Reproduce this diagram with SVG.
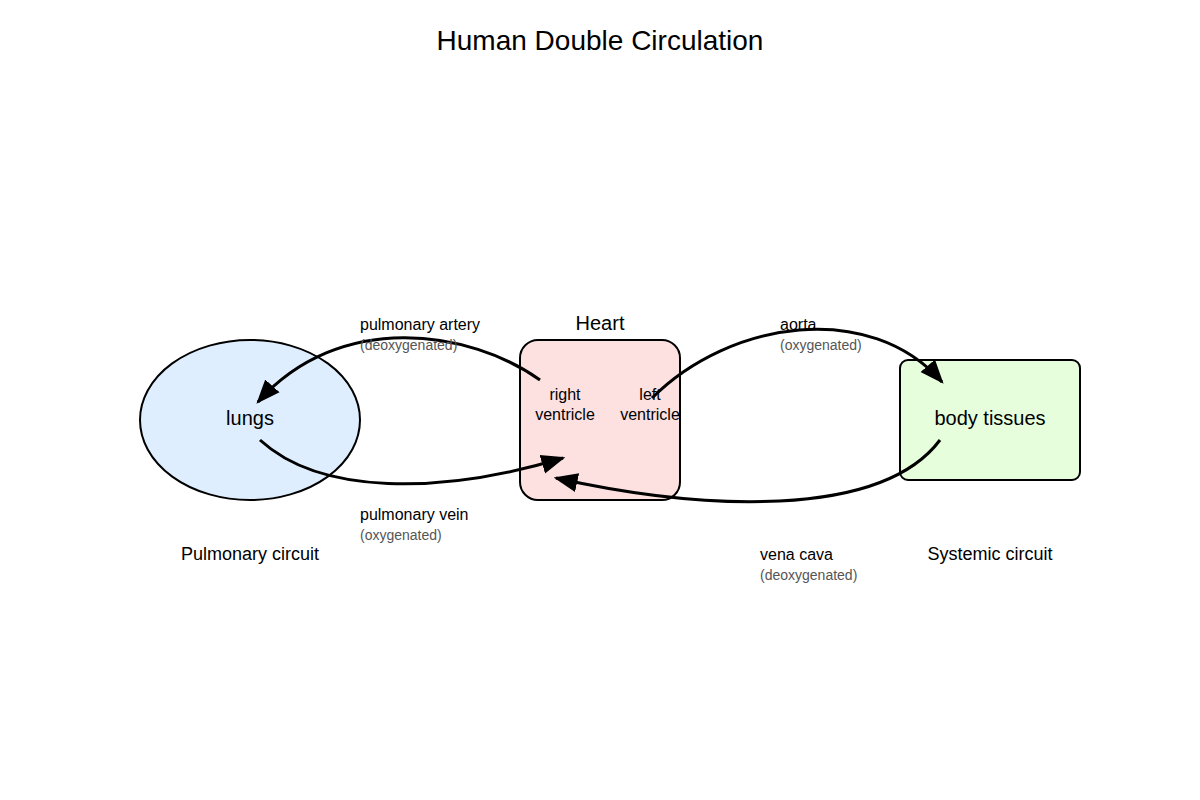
<svg xmlns="http://www.w3.org/2000/svg" width="1200" height="800" viewBox="0 0 1200 800">
<style>
text{font-family:"Liberation Sans",Arial,sans-serif;fill:#000}
.t{font-size:28px}
.n{font-size:20px}
.s{font-size:16px}
.g{font-size:14px;fill:#555}
.c{fill:none;stroke:#000;stroke-width:3}
</style>
<defs>
<marker id="a" viewBox="0 0 10 10" refX="9" refY="5" markerWidth="8" markerHeight="8" markerUnits="strokeWidth" orient="auto">
<path d="M0,1 L10,5 L0,9 Z" fill="#000"/>
</marker>
</defs>
<rect width="1200" height="800" fill="#fff"/>
<text class="t" x="600" y="50" text-anchor="middle">Human Double Circulation</text>
<g id="lungs">
<ellipse cx="250" cy="420" rx="110" ry="80" fill="#deeefe" stroke="#000" stroke-width="2"/>
<text class="n" x="250" y="425" text-anchor="middle">lungs</text>
</g>
<g id="heart">
<rect x="520" y="340" width="160" height="160" rx="18" fill="#fde0e0" stroke="#000" stroke-width="2"/>
<text class="n" x="600" y="330" text-anchor="middle">Heart</text>
<text class="s" x="565" y="400" text-anchor="middle">right</text>
<text class="s" x="565" y="420" text-anchor="middle">ventricle</text>
<text class="s" x="650" y="400" text-anchor="middle">left</text>
<text class="s" x="650" y="420" text-anchor="middle">ventricle</text>
</g>
<g id="body">
<rect x="900" y="360" width="180" height="120" rx="8" fill="#e6fedc" stroke="#000" stroke-width="2"/>
<text class="n" x="990" y="425" text-anchor="middle">body tissues</text>
</g>
<g id="connectors">
<path class="c" d="M540,380 C470,330 340,310 258,402" marker-end="url(#a)"/>
<path class="c" d="M260,440 C320,495 440,495 563,458" marker-end="url(#a)"/>
<path class="c" d="M652,398 C730,320 870,300 942,382" marker-end="url(#a)"/>
<path class="c" d="M940,440 C880,520 700,510 556,478" marker-end="url(#a)"/>
</g>
<g id="labels">
<text class="s" x="360" y="330">pulmonary artery</text>
<text class="g" x="360" y="350">(deoxygenated)</text>
<text class="s" x="780" y="330">aorta</text>
<text class="g" x="780" y="350">(oxygenated)</text>
<text class="s" x="360" y="520">pulmonary vein</text>
<text class="g" x="360" y="540">(oxygenated)</text>
<text class="s" x="760" y="560">vena cava</text>
<text class="g" x="760" y="580">(deoxygenated)</text>
<text class="n" x="250" y="560" text-anchor="middle" style="font-size:18px">Pulmonary circuit</text>
<text class="n" x="990" y="560" text-anchor="middle" style="font-size:18px">Systemic circuit</text>
</g>
</svg>
